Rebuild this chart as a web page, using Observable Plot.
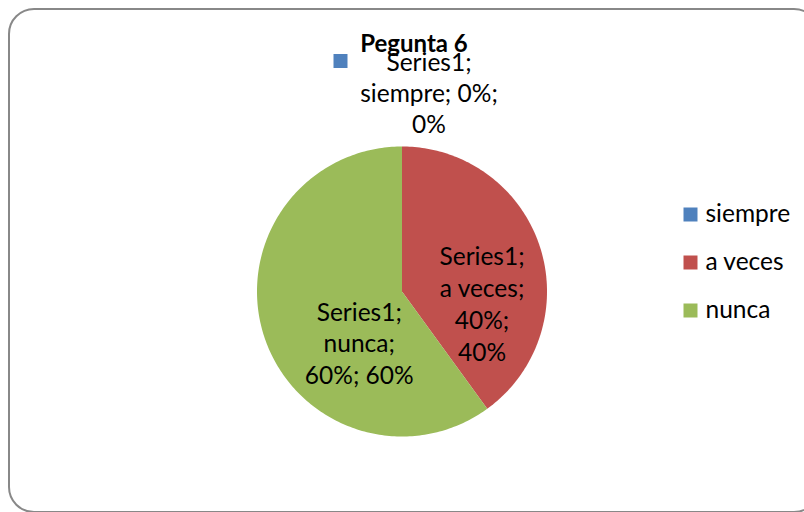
<!DOCTYPE html>
<html>
<head>
<meta charset="utf-8">
<script src="https://cdn.jsdelivr.net/npm/d3@7"></script>
<script src="https://cdn.jsdelivr.net/npm/@observablehq/plot@0.6"></script>
<style>
  html, body { margin: 0; padding: 0; background: #fff; }
  body { width: 804px; height: 512px; overflow: hidden; position: relative; font-family: Lato, "Open Sans", sans-serif; }
  #frame { position: absolute; left: 8px; top: 8px; width: 812px; height: 505px; border: 2px solid #888; border-radius: 26px; box-sizing: border-box; }
  #chart { position: absolute; left: 0; top: 0; }
  #legend { position: absolute; left: 670px; top: 180px; }
  #title { position: absolute; left: 314px; width: 200px; top: 29px; text-align: center; font-weight: bold; font-size: 24px; color: #000; line-height: 28px; }
</style>
</head>
<body>
<div id="frame"></div>
<div id="chart"></div>
<div id="title"></div>
<div id="legend"></div>
<script>
const titleText = "Pegunta 6";
const seriesName = "Series1";
const categories = ["siempre", "a veces", "nunca"];
const values = [0, 40, 60];
const colors = ["#4f81bd", "#c0504d", "#9bbb59"];

document.getElementById("title").textContent = titleText;

const W = 804, H = 512, cx = 401.5, cy = 291, R = 145;
const total = d3.sum(values);
const rows = categories.map((c, i) => ({category: c, value: values[i], pct: Math.round(values[i] / total * 100)}));
const arcs = d3.pie().sort(null).value(d => d.value).startAngle(0).endAngle(2 * Math.PI)(rows);

// polygon points for each slice (unit radius, y up)
const pts = [];
for (const a of arcs) {
  if (a.endAngle - a.startAngle <= 0) continue;
  const n = Math.max(2, Math.ceil((a.endAngle - a.startAngle) / (Math.PI / 180)));
  pts.push({k: a.data.category, x: 0, y: 0});
  for (let j = 0; j <= n; j++) {
    const t = a.startAngle + (a.endAngle - a.startAngle) * j / n;
    pts.push({k: a.data.category, x: Math.sin(t), y: Math.cos(t)});
  }
  pts.push({k: a.data.category, x: 0, y: 0});
}

function anchorOf(a, rr) {
  const m = (a.startAngle + a.endAngle) / 2;
  return {x: rr * Math.sin(m), y: rr * Math.cos(m)};
}

const color = {domain: categories, range: colors};
const fs = 24.5;

const aS = arcs[0], aA = arcs[1], aN = arcs[2];
const pS = anchorOf(aS, 1.0), pA = anchorOf(aA, 0.6), pN = anchorOf(aN, 0.6);

const chart = Plot.plot({
  width: W, height: H,
  margin: 0,
  x: {domain: [-cx / R, (W - cx) / R], axis: null},
  y: {domain: [-(H - cy) / R, cy / R], axis: null},
  color: color,
  style: {fontFamily: "Lato, 'Open Sans', sans-serif", background: "transparent", overflow: "visible"},
  marks: [
    Plot.line(pts, {x: "x", y: "y", z: "k", fill: "k", stroke: null, curve: "linear"}),
    Plot.text([aA], {x: () => pA.x, y: () => pA.y, text: a => `${seriesName};\n${a.data.category};\n${a.data.pct}%;\n${a.data.pct}%`, fontSize: fs, lineHeight: 32 / fs, fill: "#000", dx: -2.7, dy: 38.5}),
    Plot.text([aN], {x: () => pN.x, y: () => pN.y, text: a => `${seriesName};\n${a.data.category};\n${a.data.pct}%; ${a.data.pct}%`, fontSize: fs, lineHeight: 31.5 / fs, fill: "#000", dx: 40, dy: 24}),
    Plot.text([aS], {x: () => pS.x, y: () => pS.y, text: a => `${seriesName};\n${a.data.category}; ${a.data.pct}%;\n${a.data.pct}%`, fontSize: fs, lineHeight: 31 / fs, fill: "#000", dx: 27, dy: -54}),
    Plot.dot([aS], {x: () => pS.x, y: () => pS.y, symbol: "square", r: 7.9, fill: a => a.data.category, dx: -61.5, dy: -85.5})
  ]
});
document.getElementById("chart").append(chart);

const legend = Plot.plot({
  width: 134, height: 170,
  margin: 0,
  y: {type: "point", domain: categories, range: [34, 130], padding: 0, axis: null},
  color: color,
  style: {fontFamily: "Lato, 'Open Sans', sans-serif", background: "transparent", overflow: "visible"},
  marks: [
    Plot.dot(categories, {y: d => d, frameAnchor: "left", dx: 20, symbol: "square", r: 7.9, fill: d => d}),
    Plot.text(categories, {y: d => d, frameAnchor: "left", dx: 35, text: d => d, textAnchor: "start", fontSize: fs, fill: "#000"})
  ]
});
document.getElementById("legend").append(legend);
</script>
</body>
</html>
